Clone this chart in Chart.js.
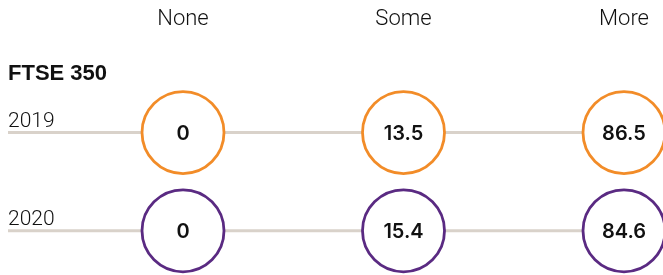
<!DOCTYPE html>
<html>
<head>
<meta charset="utf-8">
<script src="https://cdn.jsdelivr.net/npm/chart.js@4/dist/chart.umd.min.js"></script>
<style>
  html, body { margin: 0; padding: 0; background: #fff; }
  #wrap { width: 663px; height: 275px; position: relative; }
</style>
</head>
<body>
<div id="wrap"><canvas id="chart"></canvas></div>
<script>
const categories = ['None', 'Some', 'More'];
const years = ['2019', '2020'];
const values2019 = [0, 13.5, 86.5];
const values2020 = [0, 15.4, 84.6];
const groupTitle = 'FTSE 350';

const series = [values2019, values2020];
const colors = ['#f28c28', '#5a2a82'];

// lignes grises sous les cercles
const rowLines = {
  id: 'rowLines',
  beforeDatasetsDraw(chart) {
    const ctx = chart.ctx;
    const yScale = chart.scales.y;
    ctx.save();
    ctx.strokeStyle = '#d9d2ca';
    ctx.lineWidth = 3;
    years.forEach((yr, i) => {
      const y = yScale.getPixelForValue(i);
      ctx.beginPath();
      ctx.moveTo(chart.chartArea.left, y);
      ctx.lineTo(chart.width, y);
      ctx.stroke();
    });
    ctx.restore();
  }
};

// texte dans les cercles, libellés des années, titre du groupe
const labelsPlugin = {
  id: 'labels',
  afterDatasetsDraw(chart) {
    const ctx = chart.ctx;
    const yScale = chart.scales.y;
    const left = chart.chartArea.left;
    ctx.save();
    ctx.fillStyle = '#111';
    ctx.textAlign = 'left';
    ctx.textBaseline = 'alphabetic';
    ctx.font = 'bold 22px "Liberation Sans"';
    ctx.fillText(groupTitle, left, yScale.getPixelForValue(0) - 53);
    ctx.font = '300 21px Roboto';
    years.forEach((yr, i) => {
      ctx.fillText(yr, left, yScale.getPixelForValue(i) - 6);
    });
    ctx.font = '600 20px Inter';
    ctx.textAlign = 'center';
    ctx.textBaseline = 'middle';
    chart.data.datasets.forEach((ds, di) => {
      chart.getDatasetMeta(di).data.forEach((pt, i) => {
        ctx.fillText(String(series[di][i]), pt.x, pt.y + 1);
      });
    });
    ctx.restore();
  }
};

new Chart(document.getElementById('chart'), {
  type: 'line',
  data: {
    datasets: years.map((yr, di) => ({
      label: yr,
      data: series[di].map((v, i) => ({ x: i, y: di })),
      showLine: false,
      pointRadius: 41,
      pointHoverRadius: 41,
      pointBorderWidth: 2.8,
      pointBackgroundColor: '#fff',
      pointBorderColor: colors[di],
      borderColor: colors[di],
      clip: false
    }))
  },
  options: {
    responsive: true,
    maintainAspectRatio: false,
    animation: false,
    layout: { autoPadding: false, padding: { left: 8, right: 0, top: 6, bottom: 0 } },
    plugins: { legend: { display: false }, tooltip: { enabled: false } },
    scales: {
      x: {
        type: 'linear',
        position: 'top',
        min: -0.7937,
        max: 2.1769,
        afterBuildTicks: s => { s.ticks = categories.map((c, i) => ({ value: i })); },
        ticks: {
          callback: v => categories[v],
          font: { family: 'Roboto', size: 22, weight: '300' },
          color: '#111',
          padding: 0,
          maxRotation: 0
        },
        grid: { display: false, drawTicks: false },
        border: { display: false }
      },
      y: {
        type: 'linear',
        display: false,
        reverse: true,
        min: -1.02,
        max: 1.45
      }
    }
  },
  plugins: [rowLines, labelsPlugin]
});
</script>
</body>
</html>
